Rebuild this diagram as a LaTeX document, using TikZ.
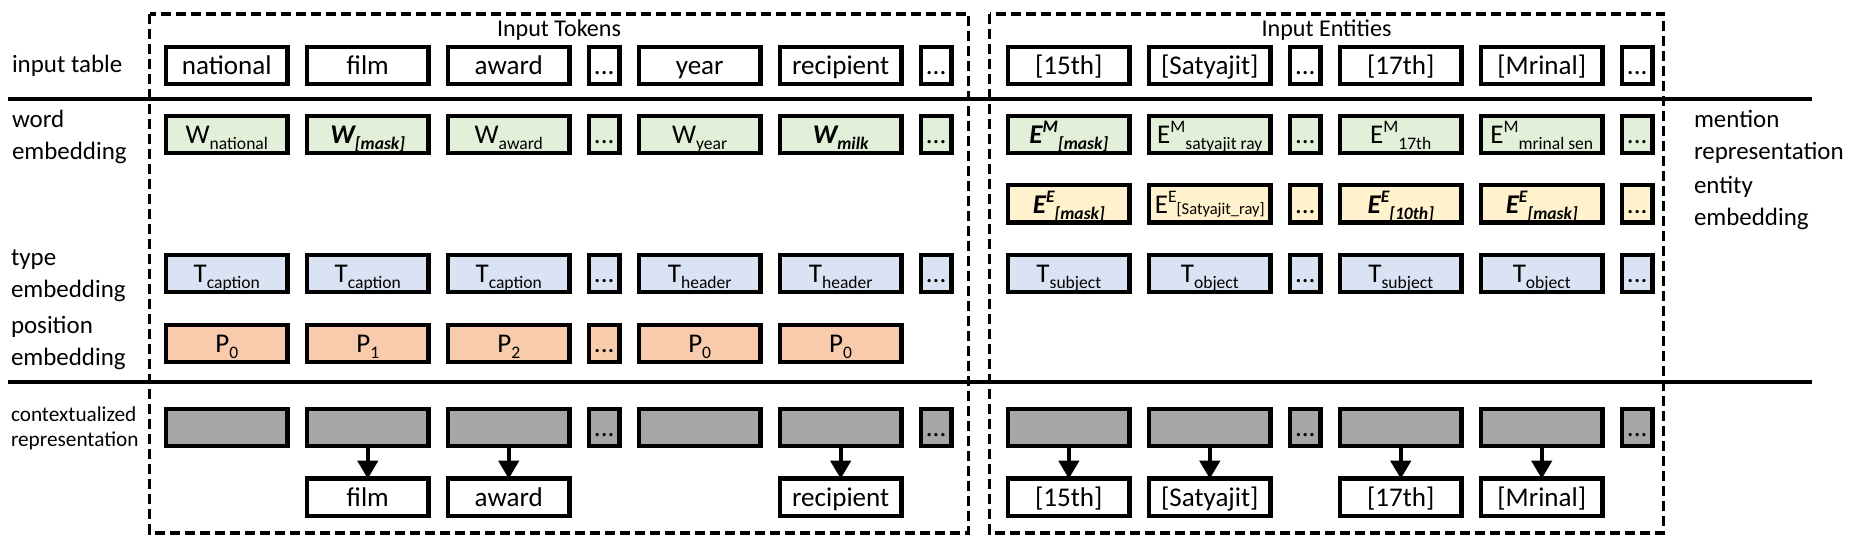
\documentclass[tikz,border=0pt]{standalone}
\usepackage{fontspec}
\setmainfont{Carlito}
\usetikzlibrary{shapes,arrows,arrows.meta,calc,positioning}

\definecolor{wordfill}{HTML}{E2F0D9}
\definecolor{entfill}{HTML}{FFF2CC}
\definecolor{typefill}{HTML}{DAE3F3}
\definecolor{posfill}{HTML}{F8CBAD}
\definecolor{ctxfill}{HTML}{A6A6A6}

\newcommand{\lowtxt}[1]{\raisebox{-0.22em}{\fontsize{10}{10}\selectfont #1}}
\newcommand{\uptxt}[1]{\raisebox{0.4em}{\fontsize{10}{10}\selectfont #1}}
\newcommand{\bitxt}[1]{\textbf{\textit{#1}}}

\begin{document}
\begin{tikzpicture}[x=0.02cm,y=-0.02cm,node distance=0.39cm,
  every node/.style={block},
  block/.style={draw,rectangle,line width=0.09cm,outer sep=0pt,inner sep=0pt,
    minimum width=2.43cm,minimum height=0.75cm,text height=11.5pt,text depth=1.1pt,
    font=\fontsize{15.4}{18}\selectfont},
  dotbox/.style={minimum width=0.61cm},
  wordbox/.style={fill=wordfill},
  entbox/.style={fill=entfill},
  typebox/.style={fill=typefill},
  posbox/.style={fill=posfill},
  ctxbox/.style={fill=ctxfill},
  rowlabel/.style={draw=none,minimum width=0pt,minimum height=0pt,text height=,text depth=,
    anchor=west,align=left,font=\fontsize{14.2}{18.2}\selectfont},
  heading/.style={draw=none,minimum width=0pt,minimum height=0pt,text height=,text depth=,
    font=\fontsize{13.7}{16}\selectfont},
  groupbox/.style={line width=0.07cm,dash pattern=on 0.2cm off 0.1cm},
  seprule/.style={line width=0.08cm},
  outarrow/.style={-{Triangle[length=0.36cm,width=0.4cm]},line width=0.08cm}]

  \useasboundingbox (0,0) rectangle (1856,554);

  % groups and separators
  \draw[groupbox] (149.5,14) rectangle (968.5,533);
  \draw[groupbox] (989.5,14) rectangle (1663.6,533);
  \draw[seprule] (8,99) -- (1812,99);
  \draw[seprule] (8,381.7) -- (1812,381.7);

  \node[heading] (hTok) at (559,30) {Input Tokens};
  \node[heading] (hEnt) at (1326.5,30) {Input Entities};

  % row labels
  \node[rowlabel] (labIn) at (12,65.5) {input table};
  \node[rowlabel] (labWord) at (12,137) {word\\embedding};
  \node[rowlabel] (labType) at (11,276) {type\\embedding};
  \node[rowlabel] (labPos) at (11,343) {position\\embedding};
  \node[rowlabel,font=\fontsize{12.1}{14.2}\selectfont] (labCtx) at (11,428) {contextualized\\representation};
  \node[rowlabel] (labMen) at (1694,137) {mention\\representation};
  \node[rowlabel] (labEnt) at (1694,203) {entity\\embedding};

  % input table
  \node (i1) at (226.8,65.5) {national};
  \node (i2) [right=of i1] {film};
  \node (i3) [right=of i2] {award};
  \node (i4) [right=of i3,dotbox] {...};
  \node (i5) [right=of i4] {year};
  \node (i6) [right=of i5] {recipient};
  \node (i7) [right=of i6,dotbox] {...};
  \node (i8) [right=1.134cm of i7] {[15th]};
  \node (i9) [right=of i8] {[Satyajit]};
  \node (i10) [right=of i9,dotbox] {...};
  \node (i11) [right=of i10] {[17th]};
  \node (i12) [right=of i11] {[Mrinal]};
  \node (i13) [right=of i12,dotbox] {...};

  % word embedding / mention representation
  \node (w1) at (226.8,134.5) [wordbox] {W\lowtxt{national}};
  \node (w2) [right=of w1,wordbox] {\bitxt{W\lowtxt{[mask]}}};
  \node (w3) [right=of w2,wordbox] {W\lowtxt{award}};
  \node (w4) [right=of w3,wordbox,dotbox] {...};
  \node (w5) [right=of w4,wordbox] {W\lowtxt{year}};
  \node (w6) [right=of w5,wordbox] {\bitxt{W\lowtxt{milk}}};
  \node (w7) [right=of w6,wordbox,dotbox] {...};
  \node (w8) [right=1.134cm of w7,wordbox] {\bitxt{E\uptxt{M}\lowtxt{[mask]}}};
  \node (w9) [right=of w8,wordbox] {E\uptxt{M}\lowtxt{satyajit ray}};
  \node (w10) [right=of w9,wordbox,dotbox] {...};
  \node (w11) [right=of w10,wordbox] {E\uptxt{M}\lowtxt{17th}};
  \node (w12) [right=of w11,wordbox] {E\uptxt{M}\lowtxt{mrinal sen}};
  \node (w13) [right=of w12,wordbox,dotbox] {...};

  % entity embedding
  \node (e8) [below=0.64cm of w8,entbox] {\bitxt{E\uptxt{E}\lowtxt{[mask]}}};
  \node (e9) [right=of e8,entbox] {E\uptxt{E}\raisebox{-0.05em}{\fontsize{9.4}{10}\selectfont [Satyajit\_ray]}};
  \node (e10) [right=of e9,entbox,dotbox] {...};
  \node (e11) [right=of e10,entbox] {\bitxt{E\uptxt{E}\lowtxt{[10th]}}};
  \node (e12) [right=of e11,entbox] {\bitxt{E\uptxt{E}\lowtxt{[mask]}}};
  \node (e13) [right=of e12,entbox,dotbox] {...};

  % type embedding
  \node (t1) at (226.8,273.5) [typebox] {T\lowtxt{caption}};
  \node (t2) [right=of t1,typebox] {T\lowtxt{caption}};
  \node (t3) [right=of t2,typebox] {T\lowtxt{caption}};
  \node (t4) [right=of t3,typebox,dotbox] {...};
  \node (t5) [right=of t4,typebox] {T\lowtxt{header}};
  \node (t6) [right=of t5,typebox] {T\lowtxt{header}};
  \node (t7) [right=of t6,typebox,dotbox] {...};
  \node (t8) [right=1.134cm of t7,typebox] {T\lowtxt{subject}};
  \node (t9) [right=of t8,typebox] {T\lowtxt{object}};
  \node (t10) [right=of t9,typebox,dotbox] {...};
  \node (t11) [right=of t10,typebox] {T\lowtxt{subject}};
  \node (t12) [right=of t11,typebox] {T\lowtxt{object}};
  \node (t13) [right=of t12,typebox,dotbox] {...};

  % position embedding
  \node (p1) at (226.8,343.5) [posbox] {P\lowtxt{0}};
  \node (p2) [right=of p1,posbox] {P\lowtxt{1}};
  \node (p3) [right=of p2,posbox] {P\lowtxt{2}};
  \node (p4) [right=of p3,posbox,dotbox] {...};
  \node (p5) [right=of p4,posbox] {P\lowtxt{0}};
  \node (p6) [right=of p5,posbox] {P\lowtxt{0}};

  % contextualized representation
  \node (c1) at (226.8,427.5) [ctxbox] {};
  \node (c2) [right=of c1,ctxbox] {};
  \node (c3) [right=of c2,ctxbox] {};
  \node (c4) [right=of c3,ctxbox,dotbox] {...};
  \node (c5) [right=of c4,ctxbox] {};
  \node (c6) [right=of c5,ctxbox] {};
  \node (c7) [right=of c6,ctxbox,dotbox] {...};
  \node (c8) [right=1.134cm of c7,ctxbox] {};
  \node (c9) [right=of c8,ctxbox] {};
  \node (c10) [right=of c9,ctxbox,dotbox] {...};
  \node (c11) [right=of c10,ctxbox] {};
  \node (c12) [right=of c11,ctxbox] {};
  \node (c13) [right=of c12,ctxbox,dotbox] {...};

  % predictions
  \node (o2) [below=0.65cm of c2] {film};
  \node (o3) [below=0.65cm of c3] {award};
  \node (o6) [below=0.65cm of c6] {recipient};
  \node (o8) [below=0.65cm of c8] {[15th]};
  \node (o9) [below=0.65cm of c9] {[Satyajit]};
  \node (o11) [below=0.65cm of c11] {[17th]};
  \node (o12) [below=0.65cm of c12] {[Mrinal]};

  \draw[outarrow] (c2) -- (o2);
  \draw[outarrow] (c3) -- (o3);
  \draw[outarrow] (c6) -- (o6);
  \draw[outarrow] (c8) -- (o8);
  \draw[outarrow] (c9) -- (o9);
  \draw[outarrow] (c11) -- (o11);
  \draw[outarrow] (c12) -- (o12);
\end{tikzpicture}
\end{document}
